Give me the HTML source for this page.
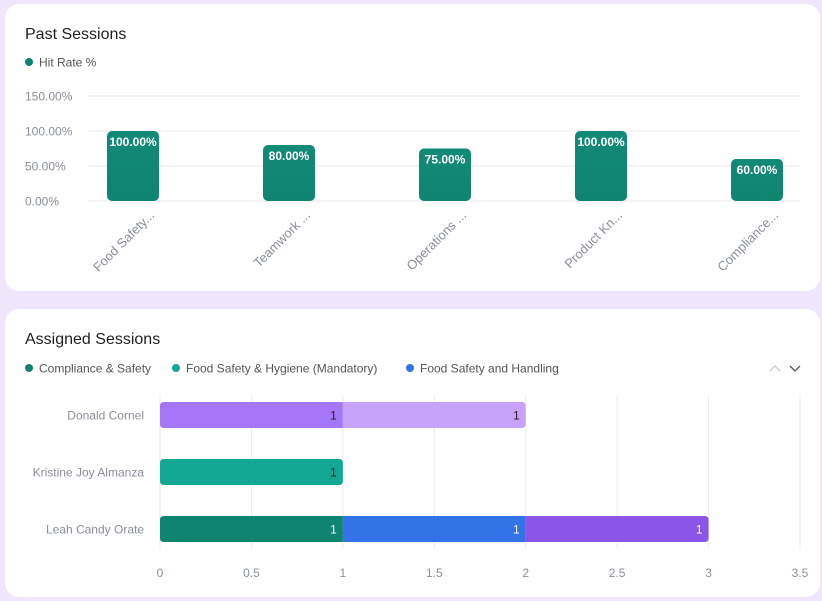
<!DOCTYPE html>
<html><head><meta charset="utf-8"><style>
body{margin:0;background:#efe6fb;width:822px;height:601px;overflow:hidden;font-family:"Liberation Sans",sans-serif;}
.card{position:absolute;left:5px;width:815px;background:#fff;border-radius:14px;}
svg{position:absolute;left:0;top:0;}
</style></head><body>
<div class="card" style="top:4px;height:287px;"></div>
<div class="card" style="top:309px;height:288px;"></div>
<svg width="822" height="601" font-family="Liberation Sans, sans-serif">
<defs><linearGradient id="gb" x1="0" y1="0" x2="0" y2="1"><stop offset="0" stop-color="#138a76"/><stop offset="1" stop-color="#0f8571"/></linearGradient></defs>
<text x="25" y="39" font-size="16" fill="#1f1f1f">Past Sessions</text>
<g><circle cx="29" cy="62" r="4" fill="#0f8571"/><text x="39" y="66.5" font-size="12" fill="#555">Hit Rate %</text></g>
<g id="topchart"></g>
<text x="25" y="344" font-size="16" fill="#1f1f1f">Assigned Sessions</text>
<g id="leg2"></g>
<g fill="none" stroke-width="1.3"><path d="M770 371 L775 366 L780 371" stroke="#ccc"/><path d="M790 366 L795 371 L800 366" stroke="#555"/></g>
<g id="botchart"></g>
</svg>
<script>
const cats=["Food Safety...","Teamwork ...","Operations ...","Product Kn...","Compliance..."];
const hitRates=[100,80,75,100,60];
const yTicks=[0,50,100,150];
const people=["Donald Cornel","Kristine Joy Almanza","Leah Candy  Orate"];
const seriesNames=["Compliance & Safety","Food Safety & Hygiene (Mandatory)","Food Safety and Handling","Series 4","Series 5","Series 6"];
const s1=[0,0,1],s2=[0,1,0],s3=[0,0,1],s4=[1,0,0],s5=[1,0,0],s6=[0,0,1];
const xTicks=[0,0.5,1,1.5,2,2.5,3,3.5];
const NS="http://www.w3.org/2000/svg";
function mk(t,a,p){const e=document.createElementNS(NS,t);for(const k in a)e.setAttribute(k,a[k]);p.appendChild(e);return e;}
const topG=document.getElementById('topchart');
const yS=v=>201-v*0.7;
yTicks.forEach(v=>{
 const l=mk('line',{x1:88,x2:800,y1:yS(v),y2:yS(v),stroke:'#e8e8e8'},topG);
 
 
 const t=mk('text',{x:25,y:yS(v)+4.5,'font-size':12,fill:'#8a8f99'},topG);t.textContent=v.toFixed(2)+'%';
 
 
});
const xC=i=>133+156*i;
hitRates.forEach((v,i)=>{
 const r=mk('rect',{x:xC(i)-26,y:yS(v),width:52,height:v*0.7,rx:5,fill:'url(#gb)'},topG);
 
 
 const t=mk('text',{x:xC(i),y:yS(v)+15,'font-size':12,'font-weight':'bold',fill:'#fff','text-anchor':'middle'},topG);t.textContent=v.toFixed(2)+'%';
 
 
 const c=mk('text',{x:xC(i)+22,y:216,'font-size':13,fill:'#8a8f99','text-anchor':'end',transform:`rotate(-45 ${xC(i)+22} 216)`},topG);c.textContent=cats[i];
 
 
});
const leg=document.getElementById('leg2');
const lc=['#0f8571','#12a893','#3273e8'];const lx=[29,176,410];
[0,1,2].forEach(i=>{
 const g=mk('g',{},leg);
 
 
 mk('circle',{cx:lx[i],cy:368,r:4,fill:lc[i]},g);
 const t=mk('text',{x:lx[i]+10,y:372.5,'font-size':12,fill:'#555'},g);t.textContent=seriesNames[i];
});
const botG=document.getElementById('botchart');
const xS=v=>160+v*182.86;
xTicks.forEach(v=>{
 const l=mk('line',{x1:xS(v),x2:xS(v),y1:395,y2:549,stroke:'#ececec'},botG);
 
 
 const t=mk('text',{x:xS(v),y:577,'font-size':12,fill:'#8a8f99','text-anchor':'middle'},botG);t.textContent=v;
 
 
});
const series=[s1,s2,s3,s4,s5,s6];
const cols=['#0f8571','#12a893','#3273e8','#a577f8','#c7a2fb','#8b55e8'];
people.forEach((p,r)=>{
 const cy=415+57*r;
 const t=mk('text',{x:144,y:cy+4.5,'font-size':12,fill:'#8a8f99','text-anchor':'end'},botG);t.textContent=p;
 
 
 let acc=0;const segs=[];
 series.forEach((s,k)=>{if(s[r]>0){segs.push([k,acc,s[r]]);acc+=s[r];}});
 segs.forEach(([k,a,v],j)=>{
  const x0=xS(a),x1=xS(a+v);
  const first=j===0,last=j===segs.length-1,rad=4;
  const d=`M${x0+(first?rad:0)} ${cy-13} H${x1-(last?rad:0)} ${last?`Q${x1} ${cy-13} ${x1} ${cy-13+rad} V${cy+13-rad} Q${x1} ${cy+13} ${x1-rad} ${cy+13}`:`V${cy+13}`} H${x0+(first?rad:0)} ${first?`Q${x0} ${cy+13} ${x0} ${cy+13-rad} V${cy-13+rad} Q${x0} ${cy-13} ${x0+rad} ${cy-13}`:`V${cy-13}`} Z`;
  const b=mk('path',{d:d,fill:cols[k]},botG);
  
  
  const vt=mk('text',{x:x1-6,y:cy+4.5,'font-size':12,fill:(r===2?'#fff':'#222'),'text-anchor':'end'},botG);vt.textContent=v;
  
  
 });
});
</script>
</body></html>
